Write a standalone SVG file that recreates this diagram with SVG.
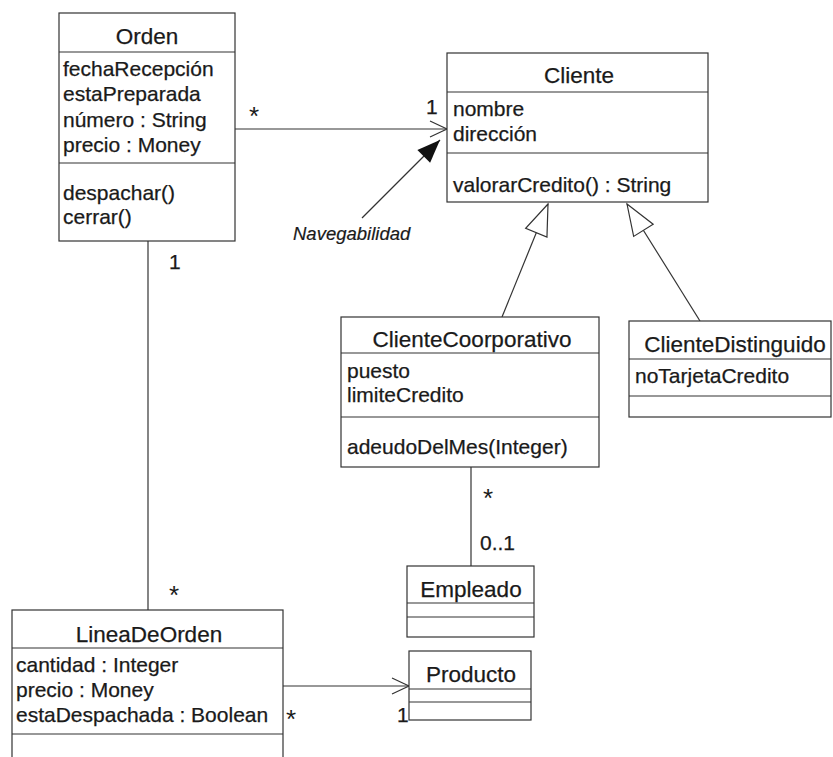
<svg xmlns="http://www.w3.org/2000/svg" width="833" height="757" viewBox="0 0 833 757">
  <style>
    .box { fill: #ffffff; stroke: #333333; stroke-width: 1.2; }
    .div { stroke: #333333; stroke-width: 1.2; fill: none; }
    .edge { stroke: #333333; stroke-width: 1.2; fill: none; }
    .t { font-family: "Liberation Sans", Arial, sans-serif; font-size: 21px; fill: #1a1a1a; stroke: #1a1a1a; stroke-width: 0.25; }
    .title { font-family: "Liberation Sans", Arial, sans-serif; font-size: 22.5px; fill: #1a1a1a; stroke: #1a1a1a; stroke-width: 0.25; text-anchor: middle; }
    .star { font-family: "Liberation Sans", Arial, sans-serif; font-size: 26px; fill: #1a1a1a; text-anchor: middle; }
    .note { font-family: "Liberation Sans", Arial, sans-serif; font-size: 18.5px; font-style: italic; fill: #1a1a1a; stroke: #1a1a1a; stroke-width: 0.2; }
  </style>
  <defs>
    <!-- open navigation arrowhead -->
    <marker id="open" markerUnits="userSpaceOnUse" viewBox="-19 -10 21 20" refX="0" refY="0" markerWidth="21" markerHeight="20" orient="auto" overflow="visible">
      <path d="M-17,-8 L0,0 L-17,8" fill="none" stroke="#333333" stroke-width="1.2"/>
    </marker>
    <!-- hollow generalization triangle -->
    <marker id="gen" markerUnits="userSpaceOnUse" viewBox="-33 -13 35 26" refX="0" refY="0" markerWidth="35" markerHeight="26" orient="auto" overflow="visible">
      <path d="M0,0 L-31,-11.5 L-31,11.5 Z" fill="#ffffff" stroke="#333333" stroke-width="1.2"/>
    </marker>
    <!-- solid pointer for the annotation -->
    <marker id="solid" markerUnits="userSpaceOnUse" viewBox="-24 -11 26 22" refX="0" refY="0" markerWidth="26" markerHeight="22" orient="auto" overflow="visible">
      <path d="M0,0 L-23,-9 L-23,9 Z" fill="#111111"/>
    </marker>
  </defs>

  <g id="connectors">
    <!-- Orden -> Cliente -->
    <line class="edge" x1="235" y1="129" x2="447" y2="129" marker-end="url(#open)"/>
    <text class="star" x="254" y="125">*</text>
    <text class="t" x="426" y="114">1</text>
    <!-- navigability annotation -->
    <line class="edge" x1="362" y1="218" x2="440" y2="140" stroke-width="2" marker-end="url(#solid)"/>
    <text class="note" x="293" y="240">Navegabilidad</text>
    <!-- Orden - LineaDeOrden -->
    <line class="edge" x1="148" y1="241" x2="148" y2="610"/>
    <text class="t" x="169" y="269">1</text>
    <text class="star" x="174" y="604">*</text>
    <!-- generalizations -->
    <line class="edge" x1="502" y1="317" x2="548" y2="204" marker-end="url(#gen)"/>
    <line class="edge" x1="700" y1="321" x2="627" y2="204" marker-end="url(#gen)"/>
    <!-- ClienteCoorporativo - Empleado -->
    <line class="edge" x1="471" y1="467" x2="471" y2="566"/>
    <text class="star" x="488" y="507">*</text>
    <text class="t" x="480" y="550">0..1</text>
    <!-- LineaDeOrden -> Producto -->
    <line class="edge" x1="283" y1="686" x2="409" y2="686" marker-end="url(#open)"/>
    <text class="star" x="291" y="728">*</text>
    <text class="t" x="397" y="722">1</text>
  </g>

  <g id="Orden">
    <rect class="box" x="59" y="13" width="176" height="228"/>
    <line class="div" x1="59" y1="52" x2="235" y2="52"/>
    <line class="div" x1="59" y1="163" x2="235" y2="163"/>
    <text class="title" x="147" y="44">Orden</text>
    <text class="t" x="63" y="76">fechaRecepción</text>
    <text class="t" x="63" y="101">estaPreparada</text>
    <text class="t" x="63" y="127">número : String</text>
    <text class="t" x="63" y="152">precio : Money</text>
    <text class="t" x="63" y="200">despachar()</text>
    <text class="t" x="63" y="224">cerrar()</text>
  </g>

  <g id="Cliente">
    <rect class="box" x="447" y="53" width="261" height="149"/>
    <line class="div" x1="447" y1="92" x2="708" y2="92"/>
    <line class="div" x1="447" y1="153" x2="708" y2="153"/>
    <text class="title" x="579" y="83">Cliente</text>
    <text class="t" x="453" y="116">nombre</text>
    <text class="t" x="453" y="141">dirección</text>
    <text class="t" x="453" y="192">valorarCredito() : String</text>
  </g>

  <g id="ClienteCoorporativo">
    <rect class="box" x="341" y="317" width="258" height="150"/>
    <line class="div" x1="341" y1="353" x2="599" y2="353"/>
    <line class="div" x1="341" y1="417" x2="599" y2="417"/>
    <text class="title" x="472" y="347">ClienteCoorporativo</text>
    <text class="t" x="347" y="378">puesto</text>
    <text class="t" x="347" y="402">limiteCredito</text>
    <text class="t" x="347" y="454">adeudoDelMes(Integer)</text>
  </g>

  <g id="ClienteDistinguido">
    <rect class="box" x="629" y="321" width="202" height="96"/>
    <line class="div" x1="629" y1="359" x2="831" y2="359"/>
    <line class="div" x1="629" y1="396" x2="831" y2="396"/>
    <text class="title" x="735" y="352">ClienteDistinguido</text>
    <text class="t" x="635" y="383">noTarjetaCredito</text>
  </g>

  <g id="Empleado">
    <rect class="box" x="407" y="566" width="127" height="71"/>
    <line class="div" x1="407" y1="603" x2="534" y2="603"/>
    <line class="div" x1="407" y1="617" x2="534" y2="617"/>
    <text class="title" x="471" y="597">Empleado</text>
  </g>

  <g id="Producto">
    <rect class="box" x="409" y="651" width="122" height="69"/>
    <line class="div" x1="409" y1="689" x2="531" y2="689"/>
    <line class="div" x1="409" y1="702" x2="531" y2="702"/>
    <text class="title" x="471" y="682">Producto</text>
  </g>

  <g id="LineaDeOrden">
    <rect class="box" x="12" y="610" width="271" height="170"/>
    <line class="div" x1="12" y1="648" x2="283" y2="648"/>
    <line class="div" x1="12" y1="734" x2="283" y2="734"/>
    <text class="title" x="149" y="642">LineaDeOrden</text>
    <text class="t" x="16" y="672">cantidad : Integer</text>
    <text class="t" x="16" y="697">precio : Money</text>
    <text class="t" x="16" y="722">estaDespachada : Boolean</text>
  </g>
</svg>
